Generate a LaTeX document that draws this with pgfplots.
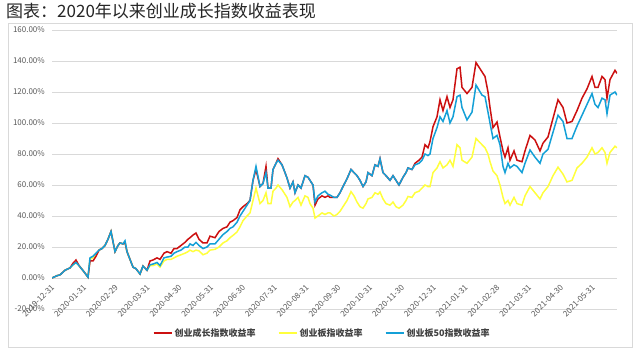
\documentclass[border=0pt]{standalone}
\usepackage{pgfplots}
\pgfplotsset{compat=1.18}
\usepackage{pgfplotstable}
\usepackage{fontspec}
\setmainfont{Noto Sans CJK SC}
\definecolor{cred}{RGB}{204,16,16}
\definecolor{cyel}{RGB}{255,255,60}
\definecolor{cblu}{RGB}{20,160,215}
\definecolor{tickgray}{RGB}{89,89,89}
\definecolor{gridgray}{RGB}{217,217,217}

\pgfplotstableread{
x cr cy cb
0 0 0 0
5 1.5 1.5 1.5
8 2 2 2
13 5 5 5
18 6.5 6.5 6.5
21 9.5 8.5 8.5
24 11.6 10 10
27 8 8 8
32 4 4 4
36 0.5 0.5 0.5
38 11 12 13
41 11 13 14
44 14 15 16
47 18 18 18
50 19 19 19
53 21 21 21
56 25 25 25
59 30 30 30
63 17 17 17
66 21 21 21
68 22.6 22.6 22.6
71 22 22 22
73 23 23 24
75 17 17 17
78 12 12 12
81 7 7 7
84 6 6 6
88 2.6 2.6 2.6
91 7.7 7.7 7.7
95 5 5 5
98 11 8 8.5
101 11.6 8 9
105 13 9 10
108 12 7 8
112 16 11 13
115 17 12 13.5
119 16 12 14
122 19 13 16
125 19 14 17
129 21 15 18
133 23 16 20
136 25 17 20
138 26 18 22
141 27.7 17 21
144 29 18 23
147 25 17.5 21
151 22.6 15 19
155 22.6 16 20
158 27 18 22
163 26 18.5 22
167 30 20 25
171 32 22.6 28
175 33 24 30
178 36 26 32
181 37 27.5 33
185 39 29.7 36
188 44 33 40
191 46 37 43
195 48 40 47
198 50 42 50
201 63 50 63
204 70 58 72
208 59 48 59
211 61 50 61
214 72 55 68
216 58 48 58
219 58 48 58
221 70 56 70
224 74 58 74
226 77 60 76
230 73 57 73
233 68 54 68
235 64.5 52 64.5
238 58 46 58
241 62 49 62
243 55 50 55
246 60 52 60
249 58 47 58
253 66 53 66
256 65 52 65
258 63 48 63
261 60 45 60
263 47 38.7 49
266 51 40 53
270 53 42 55
273 52 41 56
276 53 42 54
278 52 42 53.5
282 52 40 52
285 52 41 52
288 55 43 55
291 59 46 59
295 64 50 64
299 70 55.7 70
302 68 53 68
305 66 49 66
308 63 46 63
311 59 45 59
314 62 48 62
316 68 51 68
320 66 52 66
323 73 55 73
326 72 54 72
328 77 55.5 77
331 68 51 68
334 66 48 66
338 63 47 63
341 66 49 66
344 63 46 63
347 60 45 60
351 65 47 65
354 68 50 68
356 71 52.6 71
360 70 52 70
363 74 55 73
367 76 56 74
370 78 58 76
373 86 60 80
376 84 59 79
378 88 59 80
381 97.6 68 90
385 104 71 97
388 115 75 104
391 108 71 101
395 117 73 108
398 110 76 100
401 115 72 104
405 135 86 117
408 136 84 118
410 123 76 110
415 119 74 102
420 123 78 107
424 139 90 124.5
430 133 86 118
433 130 84 117
436 120 80 107
438 110 75 100
441 97 69 90
445 100.6 66 92
448 91 60 86
451 82 52 72
453 78 48 68
456 84 50 74
458 76 47 71
462 82 52 73
465 76 48 72
470 75 47 68
473 82 53 74
478 92 59 82.6
483 89 55 78
488 82 51 74
491 87 55 80
496 91 59 83
501 103 66 94
506 115 71.5 105
511 110 67 101
515 100 62 90
520 101 63 90
525 108 71 98
530 116 74 105
535 122 78 112
540 130 84 119
543 123 80 112
546 123 81 110
550 130 84 116
553 128 81 115
555 116 74 106
558 128 81 118
563 134 85 120
565 132 84 118
}\data

\begin{document}
\begin{tikzpicture}
\useasboundingbox (0pt,0pt) rectangle (640pt,354pt);
\fill[white] (0pt,0pt) rectangle (640pt,354pt);
\draw[gridgray, line width=0.8pt] (8pt,7pt) rectangle (632pt,331pt);
\node[anchor=west, inner sep=0pt, font=\fontsize{17}{20}\selectfont, text=black!85] at (6pt,343pt) {图表：2020年以来创业成长指数收益表现};
\begin{axis}[
  at={(52pt,45pt)}, anchor=south west,
  width=565pt, height=279pt, scale only axis,
  xmin=0, xmax=565, ymin=-20, ymax=160,
  axis x line*=middle, axis y line*=left,
  axis line style={draw=none},
  hide obscured x ticks=false,
  major tick length=0pt,
  tick style={draw=none},
  ytick={-20,0,20,40,60,80,100,120,140,160},
  ymajorgrids, grid style={gridgray, line width=0.8pt},
  xtick={0,31.8,63.6,95.4,127.2,159,190.8,222.6,254.4,286.2,318,349.8,381.6,413.4,445.2,477,508.8,540.6},
  xticklabels={2019-12-31,2020-01-31,2020-02-29,2020-03-31,2020-04-30,2020-05-31,2020-06-30,2020-07-31,2020-08-31,2020-09-30,2020-10-31,2020-11-30,2020-12-31,2021-01-31,2021-02-28,2021-03-31,2021-04-30,2021-05-31},
  xticklabel style={inner sep=0pt, yshift=-8pt, xshift=1pt, rotate=45, anchor=east, font=\fontsize{8}{9}\selectfont, text=tickgray},
  yticklabel style={inner sep=0pt, xshift=-7pt, font=\fontsize{8}{9}\selectfont, text=tickgray},
  yticklabel={\pgfmathprintnumber[fixed,fixed zerofill,precision=2,assume math mode=true]{\tick}\%},
  legend style={at={(0.478,-0.086)}, anchor=center, draw=none, fill=none,
    font=\bfseries\fontsize{9}{11}\selectfont, text=black!75,
    /tikz/every even column/.append style={column sep=20pt}},
  legend columns=3,
  legend image code/.code={\draw[line width=2pt] (0pt,0pt) -- (18pt,0pt);},
]
\addplot[cyel, line width=1.5pt, forget plot] table[x=x, y=cy]{\data};
\addplot[cred, line width=1.5pt, forget plot] table[x=x, y=cr]{\data};
\addplot[cblu, line width=1.5pt, forget plot] table[x=x, y=cb]{\data};
\addlegendimage{cred}
\addlegendentry{创业成长指数收益率}
\addlegendimage{cyel}
\addlegendentry{创业板指收益率}
\addlegendimage{cblu}
\addlegendentry{创业板50指数收益率}
\end{axis}
\end{tikzpicture}
\end{document}
